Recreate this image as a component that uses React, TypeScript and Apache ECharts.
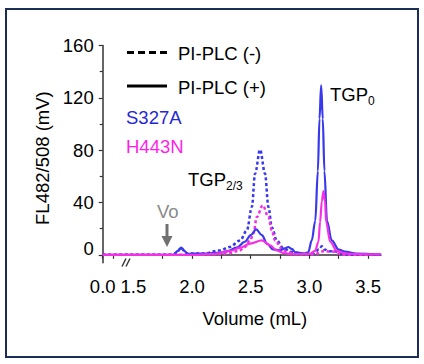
import React, { useEffect, useRef } from "react";
import * as echarts from "echarts";

// ---- data (volume in mL, fluorescence in mV) ----
const s327aPlusVol = [0, 1.5, 1.84, 1.88, 1.907, 1.935, 1.96, 2.1, 2.25, 2.3, 2.38, 2.45, 2.5, 2.546, 2.595, 2.64, 2.69, 2.75, 2.79, 2.82, 2.85, 2.88, 2.95, 2.99, 3.02, 3.05, 3.072, 3.086, 3.1, 3.114, 3.128, 3.15, 3.19, 3.25, 3.3, 3.4, 3.61];
const s327aPlusVal = [0, 0, 0, 3, 5.5, 3, 0.8, 1, 1.8, 2.8, 5.5, 10, 15, 19.5, 15, 8.5, 4.2, 3.4, 5, 6, 4.5, 2, 1, 2, 11, 26, 64, 104, 129.5, 104, 64, 26, 11, 4, 2.5, 1, 0];

const s327aMinusVol = [0, 1.5, 1.84, 1.88, 1.907, 1.935, 1.96, 2.1, 2.24, 2.32, 2.41, 2.467, 2.51, 2.537, 2.58, 2.622, 2.651, 2.68, 2.722, 2.78, 2.86, 2.95, 3.04, 3.08, 3.106, 3.13, 3.17, 3.22, 3.26, 3.35, 3.61];
const s327aMinusVal = [0, 0, 0, 3, 5.5, 3, 1, 1, 3.4, 6, 11, 18.7, 36.5, 62, 80.4, 62, 36.5, 21, 11, 4.7, 2, 0.8, 1, 4, 6.5, 4, 2.7, 2.7, 1, 0, 0];

const h443nPlusVol = [0, 1.5, 2.0, 2.2, 2.324, 2.41, 2.495, 2.595, 2.665, 2.722, 2.779, 2.85, 3.0, 3.049, 3.077, 3.091, 3.106, 3.12, 3.133, 3.143, 3.177, 3.234, 3.3, 3.4, 3.61];
const h443nPlusVal = [0, 0, 0, 0.8, 2.9, 5.5, 8.6, 11, 7.3, 3.4, 1.4, 0.5, 0.8, 3, 10, 25, 41, 48.8, 41, 25, 10, 3, 1.2, 0.5, 0.3];

const h443nMinusVol = [0, 1.5, 2.0, 2.2, 2.3, 2.4, 2.45, 2.495, 2.523, 2.552, 2.603, 2.651, 2.68, 2.708, 2.765, 2.808, 2.9, 3.05, 3.1, 3.13, 3.17, 3.2, 3.25, 3.3, 3.61];
const h443nMinusVal = [0, 0, 0, 0.5, 1, 3, 6, 11, 16.2, 28.9, 37.8, 28.9, 18.7, 11, 4.7, 2, 0.5, 0.5, 2.5, 3, 2.5, 2.5, 1, 0, 0];

const yTickValues = [0, 40, 80, 120, 160];
const yMinorTickValues = [20, 60, 100, 140];
const xLabelValues = [0, 1.5, 2.0, 2.5, 3.0, 3.5];
const xTickValues = [0, 0.5, 1.75, 2.0, 2.25, 2.5, 2.75, 3.0, 3.25, 3.5];

// broken axis: 0..1.5 is compressed into a short segment
const X_ORIGIN = 1.239;
const X_MAX = 3.61;
const toAxis = (x: number) => (x < 1.5 ? X_ORIGIN + (x * (1.5 - X_ORIGIN)) / 1.5 : x);
const fromAxis = (v: number) => (v < 1.5 ? ((v - X_ORIGIN) * 1.5) / (1.5 - X_ORIGIN) : v);

const BLUE = "#3838ee";
const MAGENTA = "#f530e4";
const INK = "#000000";
const FONT = "'Liberation Sans', Arial, Helvetica, sans-serif";

const pairs = (xs: number[], ys: number[]) => xs.map((x, i) => [toAxis(x), ys[i]]);

export default function App() {
  const ref = useRef<HTMLDivElement>(null);
  useEffect(() => {
    if (!ref.current) return;
    const chart = echarts.init(ref.current, null, { renderer: "svg" });
    const lineSeries = (name: string, xs: number[], ys: number[], color: string, dashed: boolean) => ({
      type: "line",
      name,
      data: pairs(xs, ys),
      showSymbol: false,
      smooth: 0.35,
      smoothMonotone: "x",
      lineStyle: { color, width: dashed ? 2.5 : 2.2, type: dashed ? [3, 2.5] : "solid" },
      z: dashed ? 2 : 3,
    });
    chart.setOption({
      animation: false,
      backgroundColor: "#ffffff",
      textStyle: { fontFamily: FONT },
      grid: { left: 102.7, right: 43, top: 45.5, bottom: 101.3, containLabel: false, outerBoundsMode: "none" },
      xAxis: {
        type: "value",
        min: X_ORIGIN,
        max: X_MAX,
        name: "Volume (mL)",
        nameLocation: "middle",
        nameGap: 46,
        nameTextStyle: { fontSize: 18.5, color: INK, fontFamily: FONT, padding: [0, 0, 0, 26] },
        axisLine: { show: true, lineStyle: { color: "#333", width: 1.5 } },
        axisTick: { show: true, inside: false, length: 4, lineStyle: { color: "#333", width: 1.2 }, customValues: xTickValues.map(toAxis) },
        axisLabel: {
          show: true,
          margin: 14,
          fontSize: 18.5,
          color: INK,
          fontFamily: FONT,
          customValues: xLabelValues.map(toAxis),
          formatter: (v: number) => fromAxis(v).toFixed(1),
        },
        splitLine: { show: false },
      },
      yAxis: [
        {
          type: "value",
          min: -6,
          max: 160,
          name: "FL482/508 (mV)",
          nameLocation: "middle",
          nameRotate: 90,
          nameGap: 50,
          nameTextStyle: { fontSize: 18.5, color: INK, fontFamily: FONT, padding: [0, 8, 0, 0] },
          axisLine: { show: true, lineStyle: { color: "#333", width: 1.5 } },
          axisTick: { show: true, inside: false, length: 4, lineStyle: { color: "#333", width: 1.2 }, customValues: yTickValues },
          axisLabel: {
            show: true,
            margin: 9,
            fontSize: 18.5,
            color: INK,
            fontFamily: FONT,
            customValues: yTickValues,
            formatter: (v: number) => (v === 0 ? "{z|0}" : String(v)),
            rich: { z: { fontSize: 18.5, fontFamily: FONT, color: INK, padding: [0, 0, 12, 0] } },
          },
          splitLine: { show: false },
        },
        {
          type: "value",
          min: -6,
          max: 160,
          position: "left",
          axisLine: { show: false },
          axisTick: { show: true, inside: false, length: 3, lineStyle: { color: "#333", width: 1.2 }, customValues: yMinorTickValues },
          axisLabel: { show: false },
          splitLine: { show: false },
        },
      ],
      series: [
        lineSeries("S327A PI-PLC (-)", s327aMinusVol, s327aMinusVal, BLUE, true),
        lineSeries("S327A PI-PLC (+)", s327aPlusVol, s327aPlusVal, BLUE, false),
        lineSeries("H443N PI-PLC (-)", h443nMinusVol, h443nMinusVal, MAGENTA, true),
        lineSeries("H443N PI-PLC (+)", h443nPlusVol, h443nPlusVal, MAGENTA, false),
      ],
      graphic: [
        { type: "rect", shape: { x: 6, y: 9, width: 412, height: 348 }, style: { fill: "none", stroke: "#1b2e55", lineWidth: 2 }, z: 100 },
        // axis break
        { type: "rect", shape: { x: 121, y: 260, width: 10, height: 6 }, style: { fill: "#ffffff" }, z: 100 },
        { type: "line", shape: { x1: 122, y1: 266.5, x2: 126, y2: 258.5 }, style: { stroke: "#333", lineWidth: 1.4 }, z: 101 },
        { type: "line", shape: { x1: 126, y1: 266.5, x2: 130, y2: 258.5 }, style: { stroke: "#333", lineWidth: 1.4 }, z: 101 },
        // legend
        { type: "line", shape: { x1: 127, y1: 52.5, x2: 167, y2: 52.5 }, style: { stroke: INK, lineWidth: 3, lineDash: [7, 4] }, z: 100 },
        { type: "text", x: 178, y: 53, style: { text: "PI-PLC (-)", font: `18.5px ${FONT}`, fill: INK, textVerticalAlign: "middle" }, z: 100 },
        { type: "line", shape: { x1: 127, y1: 86, x2: 167, y2: 86 }, style: { stroke: INK, lineWidth: 3 }, z: 100 },
        { type: "text", x: 178, y: 87, style: { text: "PI-PLC (+)", font: `18.5px ${FONT}`, fill: INK, textVerticalAlign: "middle" }, z: 100 },
        { type: "text", x: 126, y: 117, style: { text: "S327A", font: `18.5px ${FONT}`, fill: "#2626d6", textVerticalAlign: "middle" }, z: 100 },
        { type: "text", x: 126, y: 146, style: { text: "H443N", font: `18.5px ${FONT}`, fill: "#ff1fe8", textVerticalAlign: "middle" }, z: 100 },
        // peak labels
        { type: "text", x: 330, y: 94, style: { text: "TGP", font: `18.5px ${FONT}`, fill: INK, textVerticalAlign: "middle" }, z: 100 },
        { type: "text", x: 368, y: 100.5, style: { text: "0", font: `12px ${FONT}`, fill: INK, textVerticalAlign: "middle" }, z: 100 },
        { type: "text", x: 188, y: 179, style: { text: "TGP", font: `18.5px ${FONT}`, fill: INK, textVerticalAlign: "middle" }, z: 100 },
        { type: "text", x: 226, y: 186, style: { text: "2/3", font: `12px ${FONT}`, fill: INK, textVerticalAlign: "middle" }, z: 100 },
        // void volume marker
        { type: "text", x: 157, y: 211, style: { text: "Vo", font: `18.5px ${FONT}`, fill: "#8a8a8a", textVerticalAlign: "middle" }, z: 100 },
        { type: "line", shape: { x1: 167, y1: 224, x2: 167, y2: 238 }, style: { stroke: "#707070", lineWidth: 3 }, z: 100 },
        { type: "polygon", shape: { points: [[161.5, 236], [172.5, 236], [167, 247]] }, style: { fill: "#707070" }, z: 100 },
      ],
    });
    return () => chart.dispose();
  }, []);
  return <div ref={ref} style={{ position: "fixed", left: 0, top: 0, width: 424, height: 364 }} />;
}
